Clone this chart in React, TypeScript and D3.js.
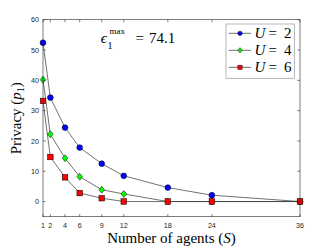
import React from "react";
import * as d3 from "d3";

const agents = [1, 2, 4, 6, 9, 12, 18, 24, 36];
const privacyU2 = [52.4, 34.3, 24.4, 17.8, 12.5, 8.5, 4.6, 2.1, 0];
const privacyU4 = [40.2, 22.2, 14.3, 8.2, 3.9, 2.5, 0, 0, 0];
const privacyU6 = [33.2, 14.7, 8.0, 2.8, 1.1, 0, 0, 0, 0];
const xTicks = [1, 2, 4, 6, 9, 12, 18, 24, 36];
const yTicks = [0, 10, 20, 30, 40, 50, 60];
const seriesLabels = ["2", "4", "6"];

const W = 332, H = 249;
const L = 43, R = 300, T = 19.7, B = 216.7;

export default function App() {
  const x = d3.scaleLinear().domain([1, 36]).range([L, R]);
  const y = d3.scaleLinear().domain([-5, 60]).range([B, T]);
  const line = d3.line<number>().x((_, i) => x(agents[i])).y((d) => y(d));
  const series = [
    { data: privacyU2, color: "#0000ff", shape: "circle" },
    { data: privacyU4, color: "#00ff00", shape: "diamond" },
    { data: privacyU6, color: "#ff0000", shape: "square" },
  ];
  const marker = (shape: string, cx: number, cy: number, color: string, key: any, scale = 1) => {
    if (shape === "circle")
      return <circle key={key} cx={cx} cy={cy} r={2.9 * scale} fill={color} stroke="#000" strokeWidth={0.5} />;
    if (shape === "diamond")
      return (
        <path key={key} d={`M${cx},${cy - 3.5 * scale}L${cx + 2.8 * scale},${cy}L${cx},${cy + 3.5 * scale}L${cx - 2.8 * scale},${cy}Z`} fill={color} stroke="#000" strokeWidth={0.5} />
      );
    return <rect key={key} x={cx - 2.8 * scale} y={cy - 2.8 * scale} width={5.6 * scale} height={5.6 * scale} fill={color} stroke="#000" strokeWidth={0.5} />;
  };
  const axisColor = "#262626";
  const tickFont = "Liberation Sans, Arial, sans-serif";
  const serif = "Liberation Serif, serif";
  return (
    <svg width={W} height={H} style={{ position: "absolute", left: 0, top: 0, background: "#fff" }}>
      {series.map((s, i) => (
        <path key={"l" + i} d={line(s.data) || ""} fill="none" stroke="#333" strokeWidth={0.7} />
      ))}
      {series.map((s, i) =>
        s.data.map((v, j) => marker(s.shape, x(agents[j]), y(v), s.color, `m${i}-${j}`))
      )}
      <rect x={L} y={T} width={R - L} height={B - T} fill="none" stroke={axisColor} strokeWidth={0.6} />
      {xTicks.map((t) => (
        <g key={"xt" + t}>
          <line x1={x(t)} x2={x(t)} y1={B} y2={B - 2.6} stroke={axisColor} strokeWidth={0.6} />
          <line x1={x(t)} x2={x(t)} y1={T} y2={T + 2.6} stroke={axisColor} strokeWidth={0.6} />
          <text x={x(t)} y={B + 11} textAnchor="middle" fontFamily={tickFont} fontSize={7.2} fill={axisColor}>
            {t}
          </text>
        </g>
      ))}
      {yTicks.map((t) => (
        <g key={"yt" + t}>
          <line x1={L} x2={L + 2.6} y1={y(t)} y2={y(t)} stroke={axisColor} strokeWidth={0.6} />
          <line x1={R} x2={R - 2.6} y1={y(t)} y2={y(t)} stroke={axisColor} strokeWidth={0.6} />
          <text x={L - 4} y={y(t) + 2.6} textAnchor="end" fontFamily={tickFont} fontSize={7.2} fill={axisColor}>
            {t}
          </text>
        </g>
      ))}
      <text x={(L + R) / 2} y={243} textAnchor="middle" fontFamily={serif} fontSize={15} fill="#000">
        Number of agents (<tspan fontStyle="italic">S</tspan>)
      </text>
      <text transform={`translate(21,${(T + B) / 2}) rotate(-90)`} textAnchor="middle" fontFamily={serif} fontSize={15} fill="#000">
        Privacy (<tspan fontStyle="italic">p</tspan>
        <tspan fontSize={10} dy={3}>1</tspan>
        <tspan dy={-3}>)</tspan>
      </text>
      <g fontFamily={serif} fill="#000">
        <text x={100.7} y={43.3} fontSize={15} fontStyle="italic">ϵ</text>
        <text x={109.5} y={34} fontSize={9}>max</text>
        <text x={107.5} y={48.5} fontSize={10}>1</text>
        <text x={135.5} y={43.3} fontSize={15}>=</text>
        <text x={149} y={43.3} fontSize={15}>74.1</text>
      </g>
      <g>
        <rect x={226} y={24} width={68.3} height={54.3} fill="#fff" stroke="#999" strokeWidth={0.7} />
        {series.map((s, i) => {
          const cy = 33.3 + i * 17;
          return (
            <g key={"lg" + i} fontFamily={serif} fontSize={15} fill="#000">
              <line x1={228.7} x2={251} y1={cy} y2={cy} stroke="#333" strokeWidth={0.7} />
              {marker(s.shape, 240, cy, s.color, "lm" + i, 0.75)}
              <text x={254.5} y={cy + 5} fontStyle="italic">U</text>
              <text x={268.5} y={cy + 5}>=</text>
              <text x={284} y={cy + 5}>{seriesLabels[i]}</text>
            </g>
          );
        })}
      </g>
    </svg>
  );
}
